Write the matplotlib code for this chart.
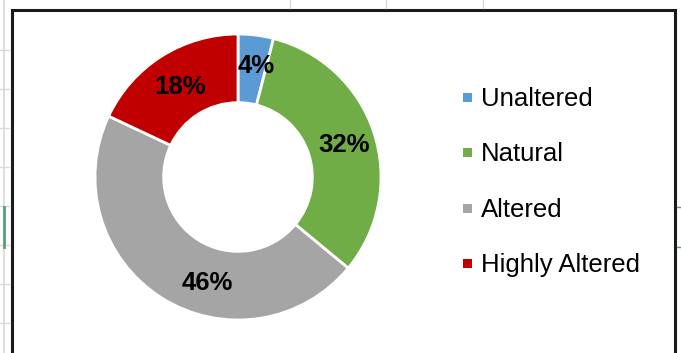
import numpy as np
import matplotlib
matplotlib.use("Agg")
import matplotlib.pyplot as plt
from matplotlib.patches import Rectangle

# doughnut data
categories = ["Unaltered", "Natural", "Altered", "Highly Altered"]
shares = [4, 32, 46, 18]
colors = ["#5B9BD5", "#70AD47", "#A5A5A5", "#C00000"]
# small angular nudges (degrees) for the percent labels
label_nudge = [2, 0, -16, 0]
label_radius = [0.8, 0.78, 0.76, 0.76]

plt.rcParams["font.family"] = ["Liberation Sans", "DejaVu Sans"]

W, H = 681, 353
fig = plt.figure(figsize=(W / 100, H / 100), dpi=100)
fig.patch.set_facecolor("white")

def px(x, y):
    return x / W, 1 - y / H

# faint spreadsheet grid around the chart object
grid = "#d9d9d9"
fig.add_artist(plt.Line2D([4 / W, 4 / W], [0, 1], color=grid, lw=1.2))
for yy in range(50, 353, 39):
    fig.add_artist(plt.Line2D([0, 9 / W], [1 - yy / H] * 2, color=grid, lw=1))
for xx in [290, 386, 483]:
    fig.add_artist(plt.Line2D([xx / W] * 2, [1, 1 - 8 / H], color=grid, lw=1))
fig.add_artist(plt.Line2D([4 / W, 4 / W], [1 - 207 / H, 1 - 247 / H], color="#5a9e78", lw=2))
fig.add_artist(plt.Line2D([677 / W, 681 / W], [1 - 207 / H] * 2, color="#5a9e78", lw=1))
fig.add_artist(plt.Line2D([677 / W, 681 / W], [1 - 247 / H] * 2, color="#5a9e78", lw=1))

# chart frame
x0, y0 = px(12, 400)
x1, y1 = px(674.5, 10)
fig.add_artist(Rectangle((x0, y0), x1 - x0, y1 - y0, transform=fig.transFigure,
                         fill=False, edgecolor="#1a1a1a", lw=2.2))

# doughnut
cx, cy, r = 238, 177, 143
ax = fig.add_axes([(cx - r) / W, 1 - (cy + r) / H, 2 * r / W, 2 * r / H])
wedges, _ = ax.pie(shares, colors=colors, startangle=90, counterclock=False,
                   radius=1, wedgeprops=dict(width=0.48, edgecolor="white", linewidth=2))
ax.set_xlim(-1, 1)
ax.set_ylim(-1, 1)
ax.axis("off")

total = float(sum(shares))
start = 0.0
for val, nudge, rr in zip(shares, label_nudge, label_radius):
    mid = start + val / total * 360 / 2 + nudge
    start += val / total * 360
    ang = np.deg2rad(90 - mid)
    ax.text(rr * np.cos(ang), rr * np.sin(ang) - 0.015, "%d%%" % val,
            ha="center", va="center", fontsize=18.5, fontweight="bold", color="black")

# legend
ys = [97, 152, 208, 263]
for name, col, yy in zip(categories, colors, ys):
    lx, ly = px(463, yy + 4.5)
    fig.add_artist(Rectangle((lx, ly), 9 / W, 9 / H, transform=fig.transFigure,
                             facecolor=col, edgecolor="none"))
    tx, ty = px(481, yy + 2)
    fig.text(tx, ty, name, fontsize=18.5, va="center", ha="left", color="black")

fig.savefig("out.png", dpi=100, facecolor="white")
